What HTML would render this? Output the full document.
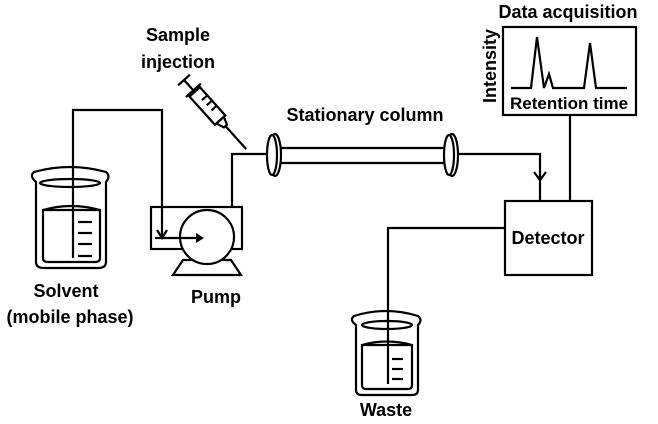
<!DOCTYPE html>
<html><head><style>
body{margin:0;background:#fff;}
svg text{font-family:"Liberation Sans",sans-serif;font-weight:bold;font-size:18px;fill:#000;}
</style></head><body>
<svg width="658" height="419" viewBox="0 0 658 419" xmlns="http://www.w3.org/2000/svg">
<g fill="none" stroke="#000" stroke-width="2.2">
<path d="M36 182 Q29 176 34 172 Q70 162 106 172 Q111 176 106 182 L106 262 Q106 268 98 268 L44 268 Q36 268 36 262 Z"/>
<ellipse cx="70" cy="183" rx="30" ry="4"/>
<path d="M43 210 Q71 202 100 210 L100 258 Q100 262 95 262 L48 262 Q43 262 43 258 Z"/>
<line x1="43" y1="210" x2="100" y2="210"/>
<line x1="78" y1="222" x2="92" y2="222"/><line x1="78" y1="233" x2="92" y2="233"/><line x1="78" y1="244" x2="92" y2="244"/><line x1="78" y1="256" x2="92" y2="256"/>
<polyline points="73,258 73,110 162,110 162,237"/>
<polyline points="157,230 162,238 167,230"/>
<rect x="151" y="207" width="91" height="42"/>
<polygon points="183,260 173,275 241,275 231,260"/>
<circle cx="207" cy="237" r="27" fill="#fff"/>
<line x1="155" y1="238" x2="202" y2="238"/>
<polygon points="196,233 204,238 196,243" fill="#000" stroke="none"/>
<polyline points="232,208 232,154 272,154"/>
<g transform="translate(184,80) rotate(48)">
<line x1="0" y1="-8" x2="0" y2="8"/>
<line x1="0" y1="0" x2="14" y2="0"/>
<line x1="14" y1="-10" x2="14" y2="10"/>
<rect x="16" y="-7" width="38" height="14"/>
<line x1="27" y1="-7" x2="27" y2="0"/><line x1="34" y1="-7" x2="34" y2="0"/><line x1="41" y1="-7" x2="41" y2="0"/>
<polygon points="54,-5 62,-2 62,2 54,5"/>
<line x1="62" y1="0" x2="93" y2="0"/>
</g>
<line x1="278" y1="148" x2="446" y2="148"/>
<line x1="278" y1="163" x2="446" y2="163"/>
<ellipse cx="275" cy="155" rx="6" ry="21" fill="#fff"/>
<ellipse cx="272" cy="155" rx="5" ry="20" fill="#fff"/>
<ellipse cx="452" cy="155" rx="6" ry="21" fill="#fff"/>
<ellipse cx="449" cy="155" rx="5" ry="20" fill="#fff"/>
<polyline points="458,154 540,154 540,201"/>
<polyline points="534,172 540,180 546,172"/>
<rect x="505" y="201" width="87" height="74"/>
<line x1="570" y1="201" x2="570" y2="115"/>
<rect x="503" y="27" width="133" height="88"/>
<polyline points="511,88 531,88 537,37 544,88 549,74 553,88 584,88 590,43 596,88 627,88"/>
<polyline points="505,228 388,228 388,384"/>
<path d="M356 325 Q349 320 354 316 Q386 306 418 316 Q423 320 418 325 L418 390 Q418 395 412 395 L362 395 Q356 395 356 390 Z"/>
<ellipse cx="387" cy="325" rx="25" ry="4"/>
<path d="M362 345 Q387 338 412 345 L412 385 Q412 389 408 389 L366 389 Q362 389 362 385 Z"/>
<line x1="362" y1="345" x2="412" y2="345"/>
<line x1="392" y1="359" x2="403" y2="359"/><line x1="392" y1="369" x2="403" y2="369"/><line x1="392" y1="379" x2="403" y2="379"/>
</g>
<text x="178" y="41" text-anchor="middle">Sample</text>
<text x="178" y="68" text-anchor="middle">injection</text>
<text x="365" y="121" text-anchor="middle">Stationary column</text>
<text x="568" y="18" text-anchor="middle">Data acquisition</text>
<text x="569" y="109" text-anchor="middle" style="font-size:17px">Retention time</text>
<text transform="translate(496,66) rotate(-90)" text-anchor="middle">Intensity</text>
<text x="548" y="244" text-anchor="middle">Detector</text>
<text x="66" y="297" text-anchor="middle">Solvent</text>
<text x="70" y="323" text-anchor="middle">(mobile phase)</text>
<text x="216" y="303" text-anchor="middle">Pump</text>
<text x="386" y="416" text-anchor="middle">Waste</text>
</svg>
</body></html>
